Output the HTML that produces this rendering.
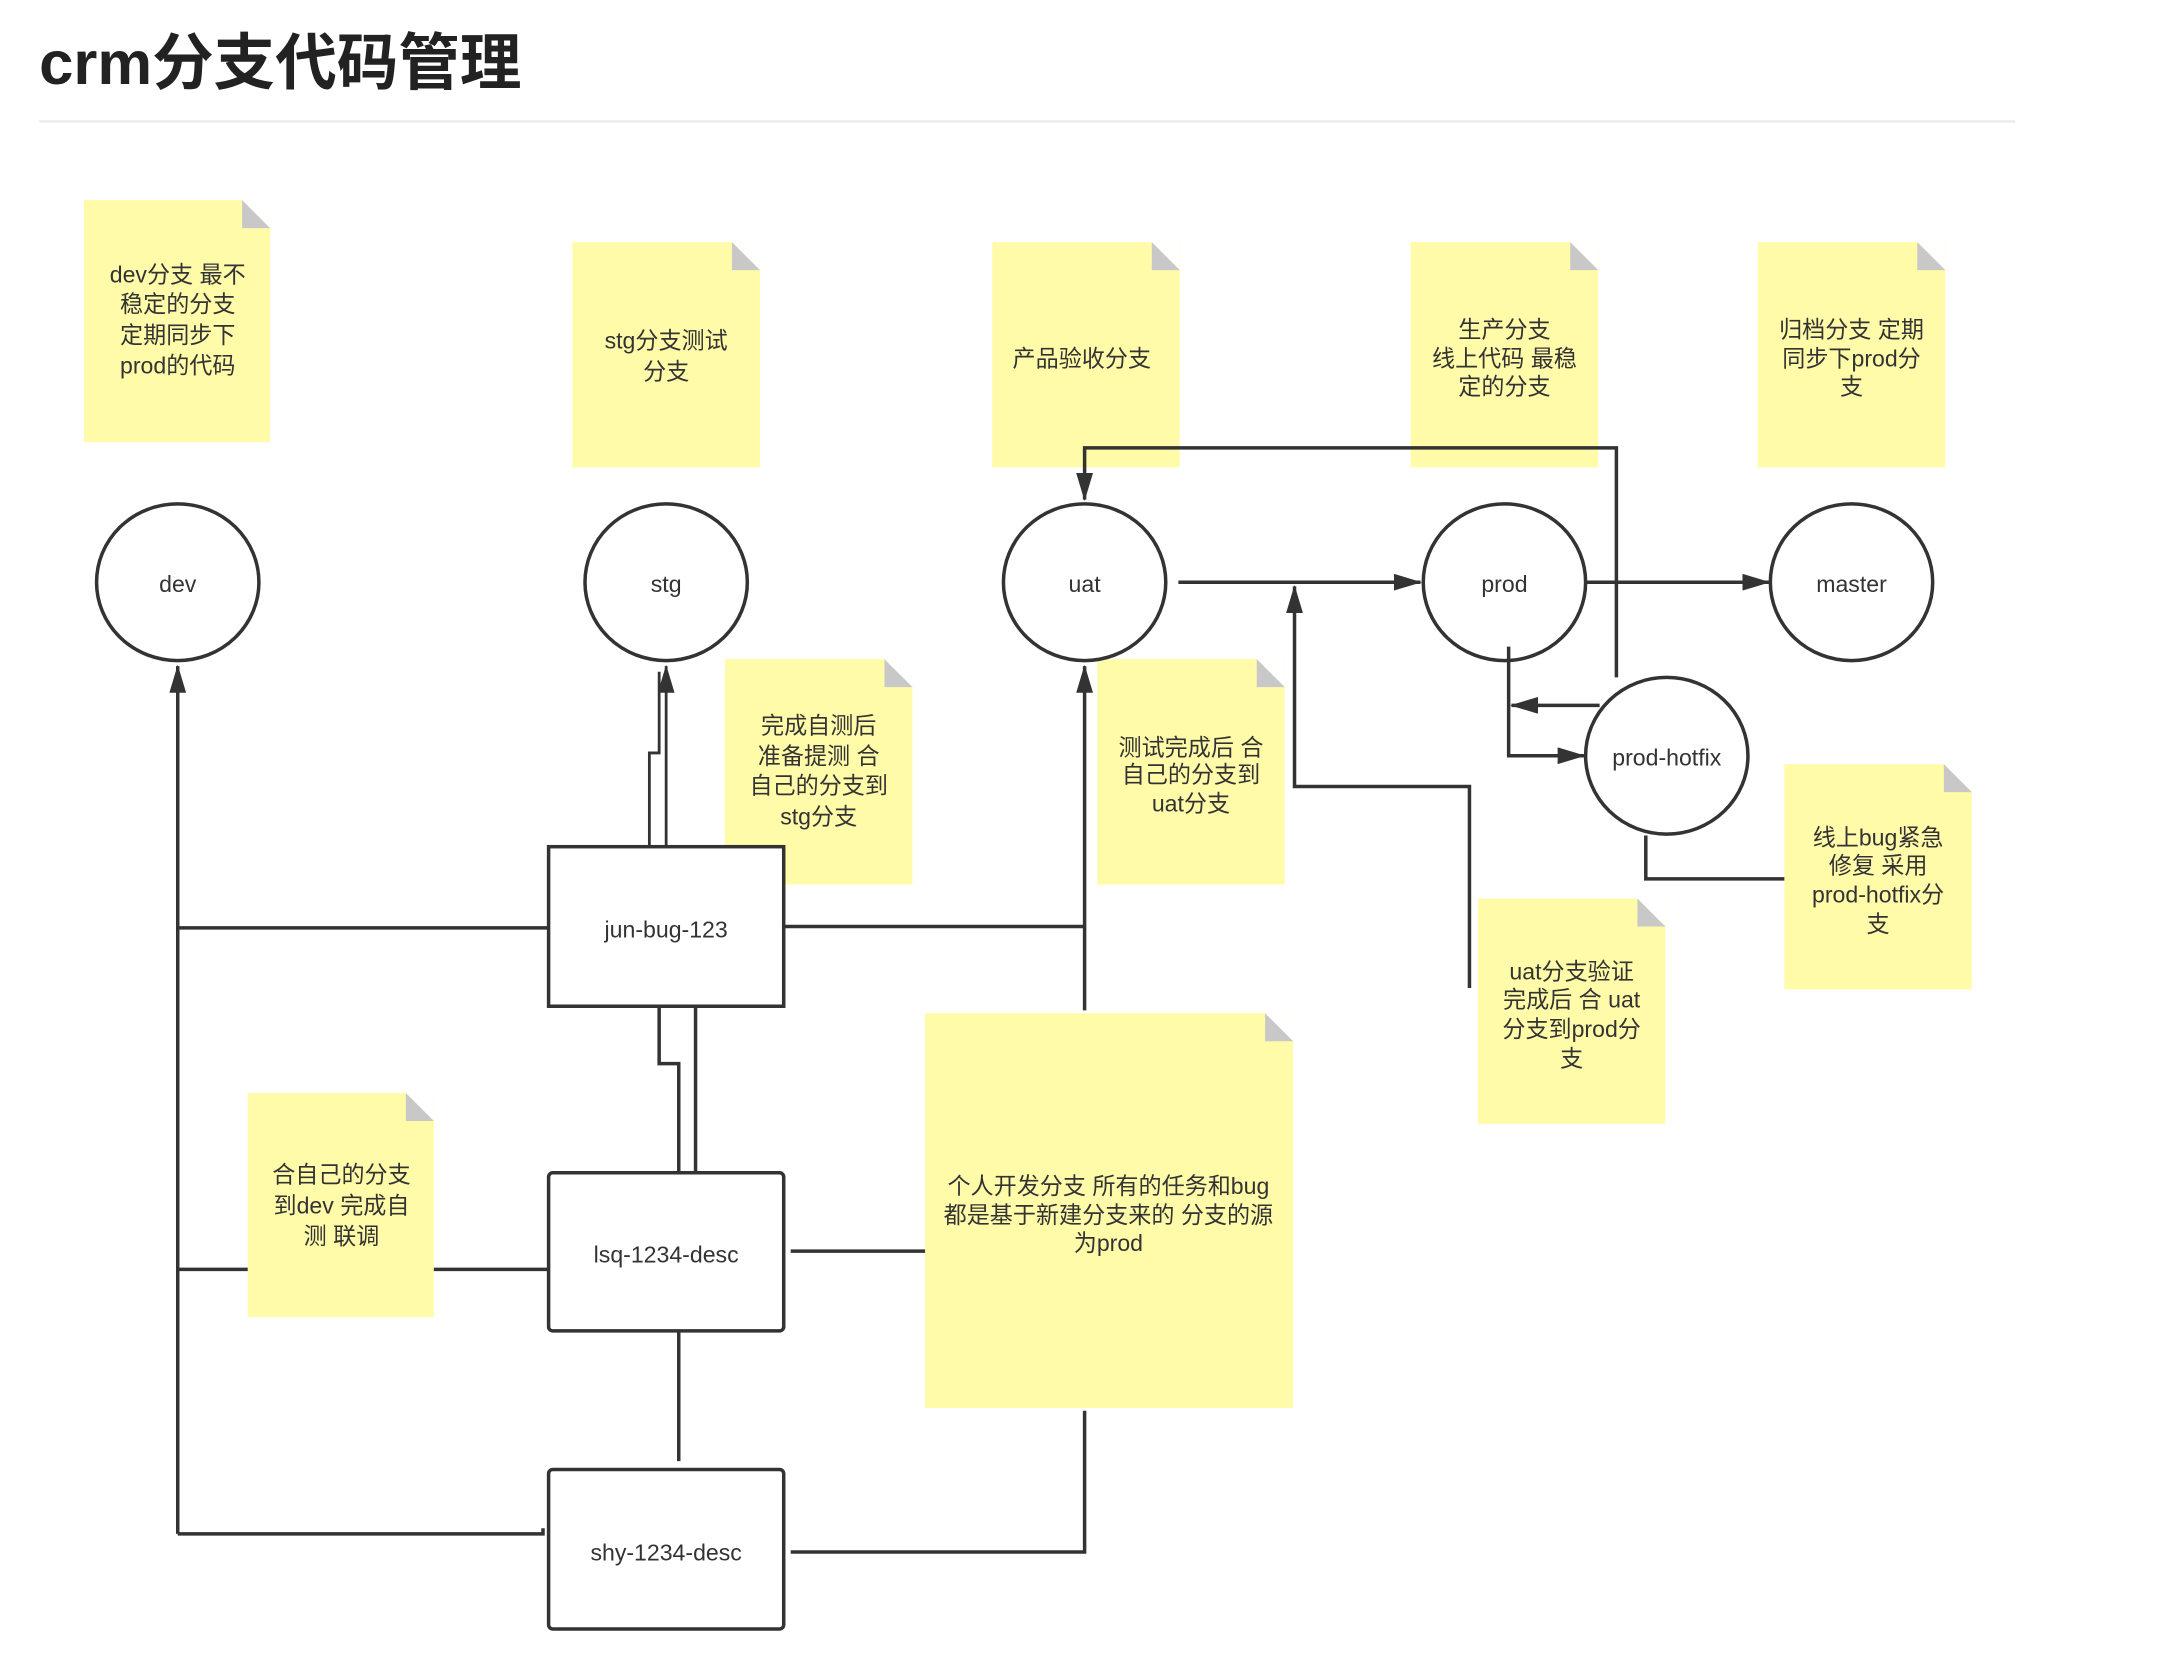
<!DOCTYPE html>
<html><head><meta charset="utf-8"><style>
html,body{margin:0;padding:0;background:#fff;}
svg{display:block;}
text{font-family:"Liberation Sans","Noto Sans CJK SC",sans-serif;fill:#333;}
</style></head><body>
<svg width="2172" height="1678" viewBox="0 0 1552 1199" xmlns="http://www.w3.org/2000/svg">
<defs>
<marker id="a" markerWidth="10" markerHeight="10" refX="9" refY="5" orient="auto" markerUnits="userSpaceOnUse" viewBox="0 0 10 10"><path d="M0,0 L10,5 L0,10 z" fill="#333"/></marker>
<marker id="b" markerWidth="20" markerHeight="12" refX="19" refY="6" orient="auto" markerUnits="userSpaceOnUse" viewBox="0 0 20 12"><path d="M0,0 L20,6 L0,12 z" fill="#333"/></marker>
</defs>
<text x="28" y="60" font-size="44" font-weight="bold" style="fill:#222">crm分支代码管理</text>
<rect x="28" y="86" width="1412" height="1.5" fill="#e8e8e8"/>

<g fill="#fffba8">
<rect x="60" y="143" width="133" height="173"/>
<rect x="409" y="173" width="134" height="161"/>
<rect x="709" y="173" width="134" height="161"/>
<rect x="1008" y="173" width="134" height="161"/>
<rect x="1256" y="173" width="134" height="161"/>
<rect x="518" y="471" width="134" height="161"/>
<rect x="784" y="471" width="134" height="161"/>
<rect x="1275" y="546" width="134" height="161"/>
<rect x="1056" y="642" width="134" height="161"/>
<rect x="177" y="781" width="133" height="160"/>
<rect x="661" y="724" width="263" height="282"/>
</g>
<g fill="#fff">
<path d="M173,143 L193,143 L193,163 z"/><path d="M523,173 L543,173 L543,193 z"/><path d="M823,173 L843,173 L843,193 z"/><path d="M1122,173 L1142,173 L1142,193 z"/><path d="M1370,173 L1390,173 L1390,193 z"/><path d="M632,471 L652,471 L652,491 z"/><path d="M898,471 L918,471 L918,491 z"/><path d="M1389,546 L1409,546 L1409,566 z"/><path d="M1170,642 L1190,642 L1190,662 z"/><path d="M290,781 L310,781 L310,801 z"/><path d="M904,724 L924,724 L924,744 z"/>
</g>
<g fill="#c8c8c8">
<path d="M173,143 L193,163 L173,163 z"/><path d="M523,173 L543,193 L523,193 z"/><path d="M823,173 L843,193 L823,193 z"/><path d="M1122,173 L1142,193 L1122,193 z"/><path d="M1370,173 L1390,193 L1370,193 z"/><path d="M632,471 L652,491 L632,491 z"/><path d="M898,471 L918,491 L898,491 z"/><path d="M1389,546 L1409,566 L1389,566 z"/><path d="M1170,642 L1190,662 L1170,662 z"/><path d="M290,781 L310,801 L290,801 z"/><path d="M904,724 L924,744 L904,744 z"/>
</g>

<g font-size="16.5" text-anchor="middle">
<text x="127" y="202">dev分支 最不</text><text x="127" y="223">稳定的分支</text><text x="127" y="245">定期同步下</text><text x="127" y="267">prod的代码</text>
<text x="476" y="249">stg分支测试</text><text x="476" y="271">分支</text>
<text x="773" y="262">产品验收分支</text>
<text x="1075" y="241">生产分支</text><text x="1075" y="262">线上代码 最稳</text><text x="1075" y="282">定的分支</text>
<text x="1323" y="241">归档分支 定期</text><text x="1323" y="262">同步下prod分</text><text x="1323" y="282">支</text>
<text x="585" y="524">完成自测后</text><text x="585" y="546">准备提测 合</text><text x="585" y="567">自己的分支到</text><text x="585" y="589">stg分支</text>
<text x="851" y="540">测试完成后 合</text><text x="851" y="559">自己的分支到</text><text x="851" y="580">uat分支</text>
<text x="1342" y="604">线上bug紧急</text><text x="1342" y="624">修复 采用</text><text x="1342" y="645">prod-hotfix分</text><text x="1342" y="666">支</text>
<text x="1123" y="700">uat分支验证</text><text x="1123" y="720">完成后 合 uat</text><text x="1123" y="741">分支到prod分</text><text x="1123" y="762">支</text>
<text x="244" y="845">合自己的分支</text><text x="244" y="867">到dev 完成自</text><text x="244" y="889">测 联调</text>
<text x="792" y="853">个人开发分支 所有的任务和bug</text><text x="792" y="874">都是基于新建分支来的 分支的源</text><text x="792" y="894">为prod</text>
</g>

<g fill="#fff" stroke="#333" stroke-width="2.5">
<ellipse cx="127" cy="416" rx="58" ry="56"/>
<ellipse cx="476" cy="416" rx="58" ry="56"/>
<ellipse cx="775" cy="416" rx="58" ry="56"/>
<ellipse cx="1075" cy="416" rx="58" ry="56"/>
<ellipse cx="1323" cy="416" rx="58" ry="56"/>
<ellipse cx="1191" cy="540" rx="58" ry="56"/>
<rect x="392" y="605" width="168" height="114"/>
<rect x="392" y="838" width="168" height="113" rx="3"/>
<rect x="392" y="1050" width="168" height="114" rx="3"/>
</g>
<g font-size="16.5" text-anchor="middle">
<text x="127" y="423">dev</text><text x="476" y="423">stg</text><text x="775" y="423">uat</text><text x="1075" y="423">prod</text><text x="1323" y="423">master</text><text x="1191" y="547">prod-hotfix</text>
<text x="476" y="670">jun-bug-123</text><text x="476" y="902">lsq-1234-desc</text><text x="476" y="1115">shy-1234-desc</text>
</g>

<g fill="none" stroke="#333" stroke-width="2.5">
<path d="M127,1096 L127,476" marker-end="url(#b)"/>
<path d="M127,663 L392,663"/>
<path d="M127,907 L177,907 M310,907 L392,907"/>
<path d="M127,1096 L388,1096 L388,1092"/>
<path d="M464,605 L464,538 L471,538 L471,480" stroke-width="2"/>
<path d="M476,605 L476,476" marker-end="url(#b)" stroke-width="2"/>
<path d="M775,722 L775,476" marker-end="url(#b)"/>
<path d="M560,662 L775,662"/>
<path d="M565,1109 L775,1109 L775,1008"/>
<path d="M565,894 L661,894"/>
<path d="M471,719 L471,760 L485,760 L485,838 M497,719 L497,838"/>
<path d="M485,951 L485,1044"/>
<path d="M842,416 L1015,416" marker-end="url(#b)"/>
<path d="M1050,706 L1050,562 L925,562 L925,419" marker-end="url(#b)"/>
<path d="M1134,416 L1264,416" marker-end="url(#b)"/>
<path d="M1155,484 L1155,320 L775,320 L775,357" marker-end="url(#b)"/>
<path d="M1078,462 L1078,540 L1132,540" marker-end="url(#b)"/>
<path d="M1143,504 L1080,504" marker-end="url(#b)"/>
<path d="M1176,597 L1176,628 L1275,628"/>
</g>
</svg>
</body></html>
